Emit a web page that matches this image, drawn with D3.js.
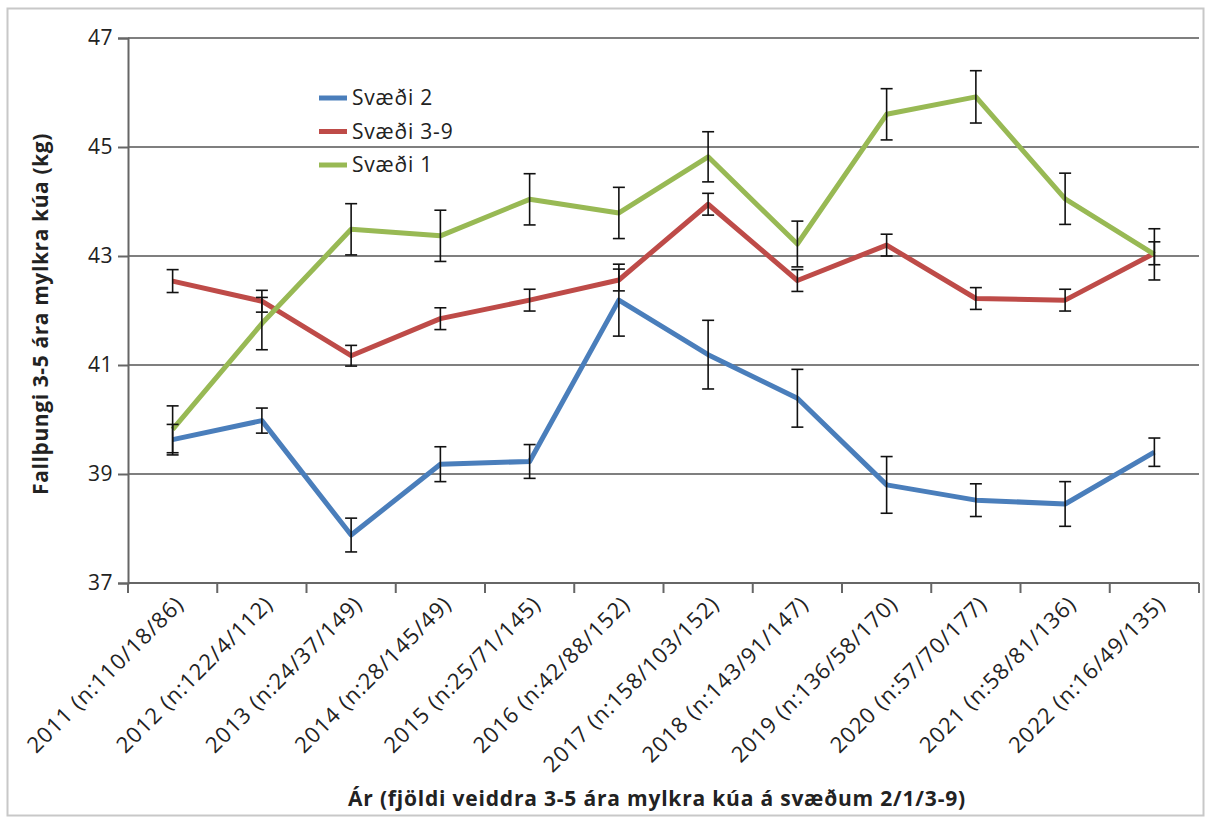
<!DOCTYPE html>
<html>
<head>
<meta charset="utf-8">
<script src="https://cdn.jsdelivr.net/npm/d3@7"></script>
<style>
  body { margin: 0; background: #fff; }
  svg text { font-family: "Open Sans", sans-serif; fill: #222; }
</style>
</head>
<body>
<div id="chart"></div>
<script>
// Data
const years = ["2011 (n:110/18/86)", "2012 (n:122/4/112)", "2013 (n:24/37/149)", "2014 (n:28/145/49)",
  "2015 (n:25/71/145)", "2016 (n:42/88/152)", "2017 (n:158/103/152)", "2018 (n:143/91/147)",
  "2019 (n:136/58/170)", "2020 (n:57/70/177)", "2021 (n:58/81/136)", "2022 (n:16/49/135)"];
const svaedi2 = [39.63, 39.98, 37.88, 39.18, 39.23, 42.19, 41.19, 40.39, 38.80, 38.52, 38.45, 39.40];
const err2 = [0.28, 0.23, 0.31, 0.32, 0.31, 0.66, 0.63, 0.53, 0.52, 0.30, 0.41, 0.26];
const svaedi39 = [42.54, 42.17, 41.17, 41.85, 42.19, 42.56, 43.95, 42.55, 43.20, 42.22, 42.19, 43.05];
const err39 = [0.21, 0.20, 0.19, 0.20, 0.20, 0.20, 0.20, 0.20, 0.20, 0.20, 0.20, 0.21];
const svaedi1 = [39.82, 41.76, 43.49, 43.37, 44.04, 43.79, 44.82, 43.22, 45.60, 45.92, 44.05, 43.03];
const err1 = [0.43, 0.48, 0.47, 0.47, 0.47, 0.47, 0.46, 0.42, 0.47, 0.48, 0.47, 0.47];
const yTicks = [37, 39, 41, 43, 45, 47];

const series = [
  { name: "Svæði 2", values: svaedi2, err: err2, color: "#4a7ebb" },
  { name: "Svæði 3-9", values: svaedi39, err: err39, color: "#be4b48" },
  { name: "Svæði 1", values: svaedi1, err: err1, color: "#98b954" }
];

// Chart dimensions
const W = 1212, H = 823;
const margin = { top: 38, right: 13, bottom: 240, left: 128 };
const width = W - margin.left - margin.right;
const height = H - margin.top - margin.bottom;

const svg = d3.select("#chart")
  .append("svg")
  .attr("width", W)
  .attr("height", H);

// Outer border
svg.append("rect")
  .attr("x", 7.5).attr("y", 8.5)
  .attr("width", 1196).attr("height", 807)
  .attr("fill", "none")
  .attr("stroke", "#c8c8c8")
  .attr("stroke-width", 2);

const g = svg.append("g")
  .attr("transform", `translate(${margin.left},${margin.top})`);

// Scales
const x = d3.scaleBand().domain(years).range([0, width]);
const y = d3.scaleLinear().domain([37, 47]).range([height, 0]);

// Gridlines
g.selectAll(".grid")
  .data(yTicks.slice(1))
  .enter()
  .append("line")
  .attr("x1", 0).attr("x2", width)
  .attr("y1", d => y(d)).attr("y2", d => y(d))
  .attr("stroke", "#7f7f7f")
  .attr("stroke-width", 2);

// Y axis
const yAxis = g.append("g")
  .call(d3.axisLeft(y).tickValues(yTicks).tickSize(10).tickPadding(5).tickFormat(d3.format("d")));
yAxis.select(".domain").attr("stroke", "#666").attr("stroke-width", 2);
yAxis.selectAll(".tick line").attr("stroke", "#666").attr("stroke-width", 2);
yAxis.selectAll("text")
  .attr("font-size", "21px")
  .attr("font-family", "Open Sans, sans-serif")
  .attr("letter-spacing", "0.5px")
  .attr("fill", "#222");

// X axis (ticks at band boundaries)
const xAxis = g.append("g")
  .attr("transform", `translate(0,${height})`);
xAxis.append("line")
  .attr("x1", 0).attr("x2", width)
  .attr("stroke", "#666").attr("stroke-width", 2);
const bounds = years.map(d => x(d)).concat([width]);
xAxis.selectAll(".xt")
  .data(bounds)
  .enter()
  .append("line")
  .attr("x1", d => d).attr("x2", d => d)
  .attr("y1", 0).attr("y2", 10)
  .attr("stroke", "#666").attr("stroke-width", 2);
xAxis.selectAll(".xl")
  .data(years)
  .enter()
  .append("text")
  .attr("transform", d => `translate(${x(d) + x.bandwidth() / 2 + 7},${17}) rotate(-45)`)
  .attr("text-anchor", "end")
  .attr("dy", "0.35em")
  .attr("font-size", "22px")
  .attr("letter-spacing", "1px")
  .text(d => d);

// Axis titles
svg.append("text")
  .attr("transform", `translate(41,${314}) rotate(-90)`)
  .attr("text-anchor", "middle")
  .attr("dy", "0.35em")
  .attr("font-size", "21px")
  .attr("letter-spacing", "0.6px")
  .attr("font-weight", "bold")
  .text("Fallþungi 3-5 ára mylkra kúa (kg)");

svg.append("text")
  .attr("x", 657)
  .attr("y", 806)
  .attr("text-anchor", "middle")
  .attr("font-size", "21px")
  .attr("letter-spacing", "0.8px")
  .attr("font-weight", "bold")
  .text("Ár (fjöldi veiddra 3-5 ára mylkra kúa á svæðum 2/1/3-9)");

// Lines
const line = d3.line()
  .x((d, i) => x(years[i]) + x.bandwidth() / 2)
  .y(d => y(d));

series.forEach(s => {
  g.append("path")
    .datum(s.values)
    .attr("fill", "none")
    .attr("stroke", s.color)
    .attr("stroke-width", 5)
    .attr("stroke-linejoin", "round")
    .attr("d", line);
});

// Error bars
series.forEach(s => {
  const eb = g.append("g");
  s.values.forEach((v, i) => {
    const cx = x(years[i]) + x.bandwidth() / 2;
    const top = y(v + s.err[i]), bot = y(v - s.err[i]);
    eb.append("line").attr("x1", cx).attr("x2", cx).attr("y1", top).attr("y2", bot);
    eb.append("line").attr("x1", cx - 6).attr("x2", cx + 6).attr("y1", top).attr("y2", top);
    eb.append("line").attr("x1", cx - 6).attr("x2", cx + 6).attr("y1", bot).attr("y2", bot);
  });
  eb.selectAll("line").attr("stroke", "#111").attr("stroke-width", 1.6);
});

// Legend
const legend = svg.append("g").attr("transform", "translate(319,98)");
series.forEach((s, i) => {
  legend.append("line")
    .attr("x1", 0).attr("x2", 28)
    .attr("y1", i * 33.5).attr("y2", i * 33.5)
    .attr("stroke", s.color).attr("stroke-width", 5);
  legend.append("text")
    .attr("x", 33).attr("y", i * 33.5)
    .attr("dy", "0.35em")
    .attr("font-size", "21px")
    .attr("letter-spacing", "0.8px")
    .text(s.name);
});
</script>
</body>
</html>
